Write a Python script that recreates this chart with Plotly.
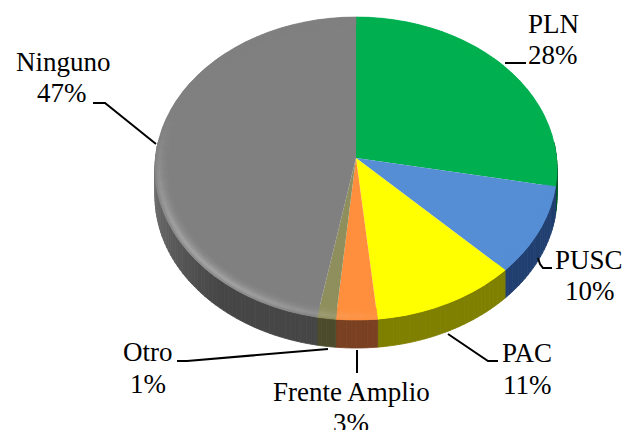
import math
import plotly.graph_objects as go

# ---- data ----
labels = ["PLN", "PUSC", "PAC", "Frente Amplio", "Otro", "Ninguno"]
shown_percent = ["28%", "10%", "11%", "3%", "1%", "47%"]
values = [28.0, 9.5, 10.9, 3.1, 1.4, 47.1]
top_colors = ["#00b050", "#558ed5", "#ffff00", "#ff8f3c", "#8f8f5e", "#808080"]
side_colors = ["#005828", "#213f70", "#7f7f00", "#7a4022", "#4c4c2c", "#464646"]
label_centers = [(553, 24), (589, 260), (527, 353), (351, 392), (148, 352), (63, 62)]
percent_centers = [(553, 55), (590, 291), (527, 385), (351, 423), (148, 384), (62, 93)]
leaders = [
    [(505, 63), (526, 63)],
    [(538, 258), (540, 264), (543, 268), (552, 268)],
    [(448, 334), (488, 361), (498, 361)],
    [(357, 350), (357, 373)],
    [(177, 361), (187, 361), (328, 349)],
    [(93, 103), (105, 103), (156, 144)],
]

# ---- projection of the tilted disc (pixel space) ----
CX, CY, A, B, K, DEPTH = 356, 158, 200.5, 150.8, 0.0693, 28


def rim(theta_deg, r=1.0, dy=0.0):
    t = math.radians(theta_deg)
    X, Y = r * math.sin(t), -r * math.cos(t)
    w = 1 - K * Y
    return CX + A * X / w, CY + B * Y / w + dy


def hex_rgb(c):
    return tuple(int(c[i:i + 2], 16) for i in (1, 3, 5))


def mix(c, other, f):
    a, b = hex_rgb(c), hex_rgb(other)
    return "rgb(%d,%d,%d)" % tuple(round(a[i] + (b[i] - a[i]) * f) for i in range(3))


def poly(fig, pts, color, lw=1.0):
    fig.add_trace(go.Scatter(
        x=[p[0] for p in pts] + [pts[0][0]], y=[p[1] for p in pts] + [pts[0][1]],
        mode="lines", fill="toself", fillcolor=color,
        line=dict(color=color, width=lw), hoverinfo="skip", showlegend=False))


def arc_steps(a, b, step):
    n = max(1, int(math.ceil((b - a) / step)))
    return [a + (b - a) * i / n for i in range(n + 1)]


fig = go.Figure()
total = sum(values)
bounds = [0.0]
for v in values:
    bounds.append(bounds[-1] + v / total * 360)

# side wall
SIDE_FROM, SIDE_TO = 84, 276
for i in range(len(values)):
    a, b = max(bounds[i], SIDE_FROM), min(bounds[i + 1], SIDE_TO)
    if b <= a:
        continue
    th = arc_steps(a, b, 1.5)
    for t0, t1 in zip(th, th[1:]):
        m = (t0 + t1) / 2
        lift = max(0.0, (m - 220) / 56) * 0.28
        col = mix(side_colors[i], "#ffffff", lift)
        poly(fig, [rim(t0), rim(t1), rim(t1, dy=DEPTH), rim(t0, dy=DEPTH)], col, 0.8)

# top face
for i in range(len(values)):
    th = arc_steps(bounds[i], bounds[i + 1], 2)
    poly(fig, [(CX, CY)] + [rim(t) for t in th], top_colors[i], 0)

# soft bevel round the rim: (inner radius, outer radius, strength)
RINGS = [(0.935, 0.945, 0.04), (0.945, 0.955, 0.09), (0.955, 0.965, 0.16),
         (0.965, 0.975, 0.27), (0.975, 0.985, 0.4), (0.985, 0.993, 0.34), (0.993, 1.0, 0.16)]
for i in range(len(values)):
    th = arc_steps(bounds[i], bounds[i + 1], 4)
    for r0, r1, strength in RINGS:
        for t0, t1 in zip(th, th[1:]):
            m = (t0 + t1) / 2
            glow = math.sin(math.radians((m - 165) * 180 / 125)) ** 1.5 if 165 < m < 290 else 0.0
            col = mix(top_colors[i], "#d8d8d8", glow * strength)
            poly(fig, [rim(t0, r0), rim(t1, r0), rim(t1, r1), rim(t0, r1)], col, 0.6)

# leader lines
for path in leaders:
    fig.add_trace(go.Scatter(x=[p[0] for p in path], y=[p[1] for p in path], mode="lines",
                             line=dict(color="#000000", width=2), hoverinfo="skip", showlegend=False))

FONT = dict(family="Liberation Serif", size=27, color="#000000")
for text, pos in list(zip(labels, label_centers)) + list(zip(shown_percent, percent_centers)):
    fig.add_annotation(x=pos[0], y=pos[1], text=text, showarrow=False, xanchor="center",
                       yanchor="middle", font=FONT)

fig.update_layout(
    width=623, height=430, margin=dict(l=0, r=0, t=0, b=0), autosize=False,
    paper_bgcolor="#ffffff", plot_bgcolor="#ffffff", showlegend=False,
    xaxis=dict(range=[0, 623], visible=False, fixedrange=True),
    yaxis=dict(range=[430, 0], visible=False, fixedrange=True),
)
fig.write_html("out.html", config=dict(displayModeBar=False),
               post_script="document.body.style.margin='0';document.body.style.overflow='hidden';")
